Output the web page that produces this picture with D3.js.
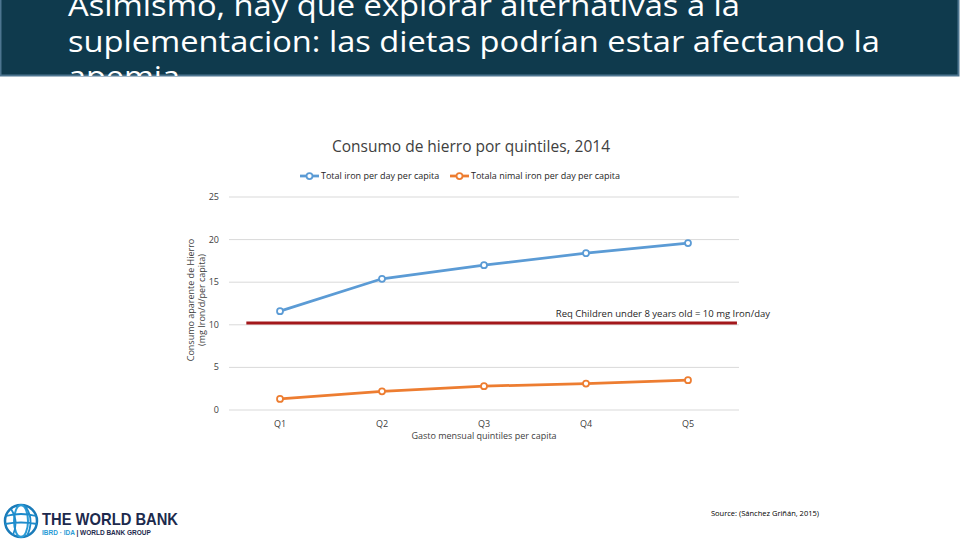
<!DOCTYPE html>
<html><head><meta charset="utf-8">
<script src="https://cdn.jsdelivr.net/npm/d3@7"></script>
<style>body{margin:0;background:#fff}svg{display:block}</style>
</head><body>
<svg id="c" width="960" height="540"></svg>
<script>
const titleLines = ["Asimismo, hay que explorar alternativas a la","suplementacion: las dietas podrían estar afectando la","apemia"];
const chartTitle = "Consumo de hierro por quintiles, 2014";
const categories = ["Q1","Q2","Q3","Q4","Q5"];
const totalIron = [11.6, 15.4, 17.0, 18.4, 19.6];
const animalIron = [1.3, 2.2, 2.8, 3.1, 3.5];
const reqValue = [10.2, 10.2];
const reqRange = [-0.33, 4.48];
const reqLabel = "Req Children under 8 years old = 10 mg Iron/day";
const yTicks = [0,5,10,15,20,25];
const seriesNames = ["Total iron per day per capita","Totala nimal iron per day per capita"];
const yLabel = ["Consumo aparente de Hierro","(mg Iron/d/per capita)"];
const xLabel = "Gasto mensual quintiles per capita";
const source = "Source: (Sánchez Griñán, 2015)";

const svg = d3.select("#c");
const F = "'Open Sans', 'Noto Sans', sans-serif";

// title band
const tb = svg.append("g");
tb.append("clipPath").attr("id","tc").append("rect").attr("x",0).attr("y",0).attr("width",959).attr("height",76);
tb.append("rect").attr("x",0.5).attr("y",-2).attr("width",958).attr("height",77.5)
  .attr("fill","#0f3a4d").attr("stroke","#4d7590").attr("stroke-width",2);
const tg = tb.append("g").attr("clip-path","url(#tc)");
const tw = [672, 812, 112];
titleLines.forEach((t,i)=>{
  tg.append("text").attr("x",68).attr("y",16+i*35.5).attr("fill","#fff")
    .attr("font-family",F).attr("font-size",30).attr("textLength",tw[i]).attr("lengthAdjust","spacingAndGlyphs").text(t);
});

// scales
const x = d3.scaleBand().domain(categories).range([229,739]);
const xi = d3.scaleLinear().domain([0,4]).range([x("Q1")+x.bandwidth()/2, x("Q5")+x.bandwidth()/2]);
const y = d3.scaleLinear().domain([0,25]).range([410,197]);

// chart title
svg.append("text").attr("x",471).attr("y",152).attr("text-anchor","middle").attr("font-family",F)
  .attr("font-size",15.5).attr("fill","#404040").text(chartTitle);

// grid
svg.append("g").selectAll("line").data(yTicks).join("line")
  .attr("x1",229).attr("x2",739).attr("y1",d=>y(d)).attr("y2",d=>y(d))
  .attr("stroke","#d9d9d9").attr("stroke-width",1);
// y tick labels
svg.append("g").selectAll("text").data(yTicks).join("text")
  .attr("x",219).attr("y",d=>y(d)+3).attr("text-anchor","end").attr("font-family",F)
  .attr("font-size",9).attr("fill","#404040").text(d=>d);
// x tick labels
svg.append("g").selectAll("text").data(categories).join("text")
  .attr("x",d=>x(d)+x.bandwidth()/2).attr("y",427).attr("text-anchor","middle").attr("font-family",F)
  .attr("font-size",9).attr("fill","#404040").text(d=>d);
// axis titles
svg.append("text").attr("x",484).attr("y",439).attr("text-anchor","middle").attr("font-family",F)
  .attr("font-size",9).attr("fill","#404040").text(xLabel);
yLabel.forEach((t,i)=>{
  svg.append("text").attr("transform",`translate(${194+i*11},300) rotate(-90)`).attr("text-anchor","middle")
    .attr("font-family",F).attr("font-size",9).attr("fill","#404040").text(t);
});

// req line
svg.append("line").attr("x1",xi(reqRange[0])).attr("x2",xi(reqRange[1]))
  .attr("y1",y(reqValue[0])).attr("y2",y(reqValue[1])).attr("stroke","#a3171b").attr("stroke-width",3);
svg.append("text").attr("x",770).attr("y",317).attr("text-anchor","end").attr("font-family",F)
  .attr("font-size",9.5).attr("fill","#262626").text(reqLabel);

// series
const colors = ["#5b9bd5","#ed7d31"];
[totalIron, animalIron].forEach((s,k)=>{
  const line = d3.line().x((d,i)=>x(categories[i])+x.bandwidth()/2).y(d=>y(d));
  svg.append("path").attr("d",line(s)).attr("fill","none").attr("stroke",colors[k]).attr("stroke-width",2.75).attr("stroke-linecap","round");
  svg.append("g").selectAll("circle").data(s).join("circle")
    .attr("cx",(d,i)=>x(categories[i])+x.bandwidth()/2).attr("cy",d=>y(d)).attr("r",3)
    .attr("fill","#fff").attr("stroke",colors[k]).attr("stroke-width",1.75);
});

// legend
const lx = [300, 450];
seriesNames.forEach((t,k)=>{
  svg.append("line").attr("x1",lx[k]).attr("x2",lx[k]+19).attr("y1",176).attr("y2",176).attr("stroke",colors[k]).attr("stroke-width",2.75);
  svg.append("circle").attr("cx",lx[k]+9.5).attr("cy",176).attr("r",3).attr("fill","#fff").attr("stroke",colors[k]).attr("stroke-width",1.75);
  svg.append("text").attr("x",lx[k]+21).attr("y",179).attr("font-family",F).attr("font-size",9).attr("fill","#262626").text(t);
});

// source
svg.append("text").attr("x",765).attr("y",516).attr("text-anchor","middle").attr("font-family",F)
  .attr("font-size",7.5).attr("fill","#000").text(source);

// World Bank logo
const lg = svg.append("g").attr("transform","translate(21,521)");
lg.append("circle").attr("r",16).attr("fill","none").attr("stroke","#1a7bb9").attr("stroke-width",2.5);
lg.append("ellipse").attr("rx",7).attr("ry",16).attr("fill","none").attr("stroke","#2a9bd6").attr("stroke-width",2);
lg.append("path").attr("d","M-15,-5 Q0,-9 15,-5 M-16,3 Q0,0 16,3 M-10,-12 Q-2,0 -8,14 M4,-15 Q14,-2 6,15").attr("fill","none").attr("stroke","#1e8bcb").attr("stroke-width",1.8);
svg.append("text").attr("x",42).attr("y",525).attr("font-family","'Liberation Sans', Arial, sans-serif").attr("font-weight","bold")
  .attr("font-size",17).attr("fill","#1d2a4d").attr("textLength",136).attr("lengthAdjust","spacingAndGlyphs").text("THE WORLD BANK");
const sub = svg.append("text").attr("x",42).attr("y",535).attr("font-family","'Liberation Sans', Arial, sans-serif").attr("font-weight","bold").attr("font-size",6.5);
sub.append("tspan").attr("fill","#2a9bd6").text("IBRD · IDA ");
sub.append("tspan").attr("fill","#1d2a4d").text("|  WORLD BANK GROUP");
</script>
</body></html>
